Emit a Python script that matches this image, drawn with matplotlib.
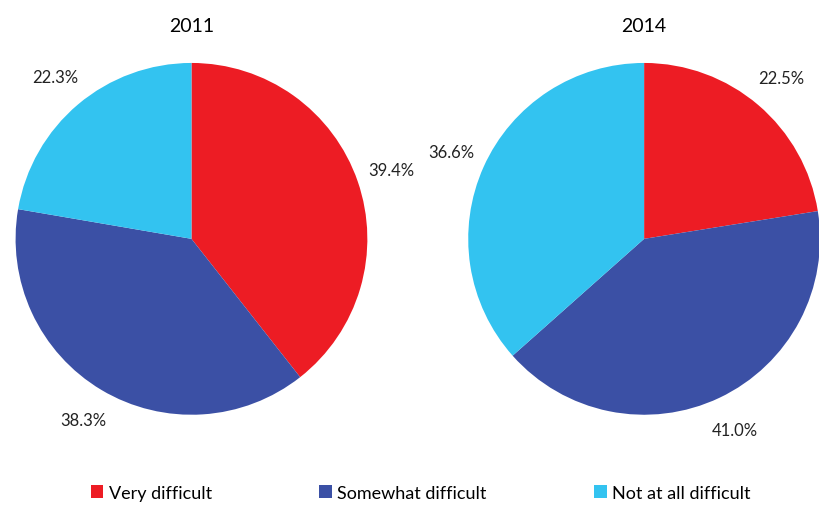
import matplotlib
matplotlib.use('Agg')
import matplotlib.pyplot as plt
from matplotlib.patches import Patch

plt.rcParams['font.family'] = ['Lato', 'DejaVu Sans']

categories = ['Very difficult', 'Somewhat difficult', 'Not at all difficult']
colors = ['#ED1C24', '#3B50A5', '#33C3F0']
years = ['2011', '2014']
values_2011 = [39.4, 38.3, 22.3]
values_2014 = [22.5, 41.0, 36.6]

fig = plt.figure(figsize=(8.2, 5.06), dpi=100)

# positions des deux camemberts (en fraction de la figure)
ax1 = fig.add_axes([0.019, 0.178, 0.429, 0.696])
ax2 = fig.add_axes([0.571, 0.178, 0.429, 0.696])

for ax, year, vals in [(ax1, years[0], values_2011), (ax2, years[1], values_2014)]:
    ax.pie(vals, colors=colors, startangle=90, counterclock=False,
           autopct=lambda p: f'{p:.1f}%', pctdistance=1.2,
           textprops={'fontsize': 12, 'color': '#222222'},
           wedgeprops={'linewidth': 0})
    ax.set_xlim(-1, 1)
    ax.set_ylim(-1, 1)
    ax.set_aspect('equal')
    # titre place a la main au-dessus du camembert
    pos = ax.get_position()
    fig.text((pos.x0 + pos.x1) / 2, 1 - 27 / 506, year, fontsize=14,
             ha='center', va='center')

handles = [Patch(facecolor=c, edgecolor='none') for c in colors]
fig.legend(handles, categories, loc='center', ncol=3, frameon=False,
           fontsize=13, handlelength=0.7, handleheight=0.7, handletextpad=0.3,
           columnspacing=5.95, bbox_to_anchor=(0.513, 1 - 494 / 506))

fig.savefig('out.png', dpi=100)
